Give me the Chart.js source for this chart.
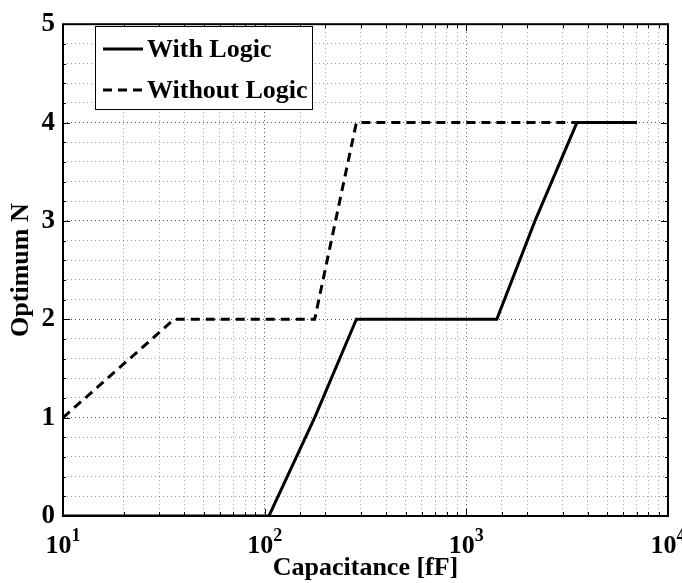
<!DOCTYPE html>
<html>
<head>
<meta charset="utf-8">
<title>Optimum N vs Capacitance</title>
<script src="https://cdn.jsdelivr.net/npm/chart.js@4/dist/chart.umd.min.js"></script>
<style>
    html, body { margin: 0; padding: 0; background: #fff; }
    #chart { display: block; }
</style>
</head>
<body>
<canvas id="chart" width="682" height="583"></canvas>
<script>
// Optimum N against load capacitance, with and without logic
const withLogicC    = [10, 105, 177, 285, 1416, 2190, 3535, 7000];
const withLogicN    = [0, 0, 1, 2, 2, 3, 4, 4];
const withoutLogicC = [10, 35.6, 177, 285, 7000];
const withoutLogicN = [1, 2, 2, 4, 4];
const seriesLabels  = ['With Logic', 'Without Logic'];
const xRange        = [10, 10000];
const yRange        = [0, 5];
const xTitle        = 'Capacitance [fF]';
const yTitle        = 'Optimum N';

const SERIF = '"Liberation Serif", "Times New Roman", serif';

const toPoints = (xs, ys) => xs.map((x, i) => ({ x, y: ys[i] }));
const isWhole  = v => Math.abs(v - Math.round(v)) < 1e-9;
const isDecade = v => isWhole(Math.log10(v));

const gridColor = major => major ? 'rgba(0,0,0,0.7)' : 'rgba(0,0,0,0.38)';

// box, inward ticks, 10^n labels and the legend
const frame = {
    id: 'frame',
    afterDraw(chart) {
        const { ctx, chartArea: a, scales: { x, y } } = chart;
        ctx.save();

        ctx.strokeStyle = '#000';
        ctx.lineWidth = 2;
        ctx.setLineDash([]);
        ctx.strokeRect(a.left, a.top, a.right - a.left, a.bottom - a.top);

        ctx.lineWidth = 1;
        ctx.beginPath();
        x.ticks.forEach(t => {
            const px = Math.round(x.getPixelForValue(t.value)) + 0.5;
            const len = isDecade(t.value) ? 7 : 4;
            ctx.moveTo(px, a.bottom); ctx.lineTo(px, a.bottom - len);
            ctx.moveTo(px, a.top);    ctx.lineTo(px, a.top + len);
        });
        y.ticks.forEach(t => {
            const py = Math.round(y.getPixelForValue(t.value)) + 0.5;
            const len = isWhole(t.value) ? 7 : 3;
            ctx.moveTo(a.left, py);  ctx.lineTo(a.left + len, py);
            ctx.moveTo(a.right, py); ctx.lineTo(a.right - len, py);
        });
        ctx.stroke();

        // decade labels as 10 with a raised exponent
        ctx.fillStyle = '#000';
        ctx.textBaseline = 'alphabetic';
        ctx.textAlign = 'left';
        x.ticks.filter(t => isDecade(t.value)).forEach(t => {
            const px = x.getPixelForValue(t.value);
            const exp = String(Math.round(Math.log10(t.value)));
            ctx.font = `bold 26px ${SERIF}`;
            const wBase = ctx.measureText('10').width;
            ctx.font = `bold 18px ${SERIF}`;
            const wExp = ctx.measureText(exp).width;
            const start = px - (wBase + wExp) / 2;
            ctx.font = `bold 26px ${SERIF}`;
            ctx.fillText('10', start, 553);
            ctx.font = `bold 18px ${SERIF}`;
            ctx.fillText(exp, start + wBase, 541);
        });

        // legend
        const box = { left: 95, top: 26, width: 217, height: 83 };
        ctx.fillStyle = '#fff';
        ctx.fillRect(box.left, box.top, box.width, box.height);
        ctx.strokeStyle = '#000';
        ctx.lineWidth = 1;
        ctx.strokeRect(box.left + 0.5, box.top + 0.5, box.width, box.height);

        const rows = [49, 90];
        chart.data.datasets.forEach((ds, i) => {
            const ly = rows[i];
            ctx.lineWidth = ds.borderWidth;
            ctx.setLineDash(ds.borderDash || []);
            ctx.beginPath();
            ctx.moveTo(103, ly);
            ctx.lineTo(143, ly);
            ctx.stroke();
            ctx.setLineDash([]);
            ctx.fillStyle = '#000';
            ctx.font = `bold 26px ${SERIF}`;
            ctx.fillText(ds.label, 147, ly + 8);
        });

        ctx.restore();
    }
};

new Chart(document.getElementById('chart'), {
    type: 'scatter',
    data: {
        datasets: [
            {
                label: seriesLabels[0],
                data: toPoints(withLogicC, withLogicN),
                showLine: true,
                borderColor: '#000',
                borderWidth: 3,
                pointRadius: 0,
                tension: 0,
            },
            {
                label: seriesLabels[1],
                data: toPoints(withoutLogicC, withoutLogicN),
                showLine: true,
                borderColor: '#000',
                borderWidth: 3,
                borderDash: [9, 6],
                pointRadius: 0,
                tension: 0,
            },
        ],
    },
    options: {
        responsive: false,
        animation: false,
        layout: { padding: { top: 14, right: 14, left: 0, bottom: 0 } },
        plugins: { legend: { display: false }, tooltip: { enabled: false } },
        scales: {
            x: {
                type: 'logarithmic',
                min: xRange[0],
                max: xRange[1],
                afterFit: s => { s.height = 67; },
                ticks: { display: false, autoSkip: false },
                grid: {
                    drawTicks: false,
                    lineWidth: 1,
                    color: c => gridColor(c.tick && isDecade(c.tick.value)),
                },
                border: { display: false, dash: [1, 3] },
                title: {
                    display: true,
                    text: xTitle,
                    color: '#000',
                    padding: 0,
                    font: { family: SERIF, size: 26, weight: 'bold', lineHeight: 1.1 },
                },
            },
            y: {
                min: yRange[0],
                max: yRange[1],
                afterFit: s => { s.width = 63; },
                ticks: {
                    stepSize: 0.2,
                    autoSkip: false,
                    padding: 8,
                    color: '#000',
                    font: { family: SERIF, size: 27, weight: 'bold' },
                    callback: v => isWhole(v) ? String(Math.round(v)) : '',
                },
                grid: {
                    drawTicks: false,
                    lineWidth: 1,
                    color: c => gridColor(c.tick && isWhole(c.tick.value)),
                },
                border: { display: false, dash: [1, 3] },
                title: {
                    display: true,
                    text: yTitle,
                    color: '#000',
                    padding: { top: 7, bottom: 0 },
                    font: { family: SERIF, size: 26, weight: 'bold', lineHeight: 1.1 },
                },
            },
        },
    },
    plugins: [frame],
});
</script>
</body>
</html>
